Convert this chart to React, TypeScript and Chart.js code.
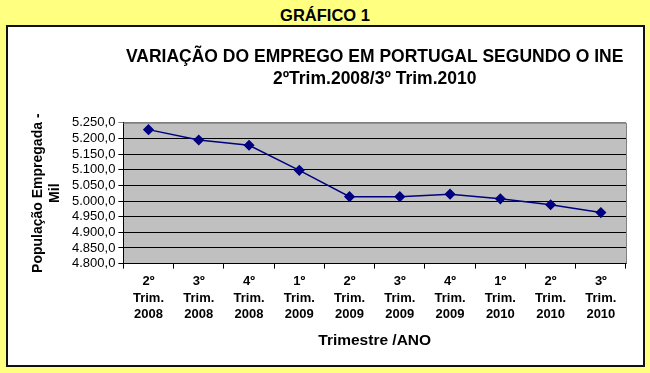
import React, { useEffect, useRef } from "react";
import { Chart, registerables } from "chart.js";

Chart.register(...registerables);

const quarters = ["2º", "3º", "4º", "1º", "2º", "3º", "4º", "1º", "2º", "3º"];
const years = ["2008", "2008", "2008", "2009", "2009", "2009", "2009", "2010", "2010", "2010"];
const employment = [5228, 5195, 5178, 5098, 5014, 5014, 5022, 5007, 4988, 4963];

const chartTitle = ["VARIAÇÃO DO EMPREGO EM PORTUGAL SEGUNDO O INE", "2ºTrim.2008/3º Trim.2010"];
const yTitle = ["População Empregada -", "Mil"];
const xTitle = "Trimestre /ANO";
const header = "GRÁFICO 1";

const FONT = "'Liberation Sans', Arial, sans-serif";

function fmt(v: number): string {
  const th = Math.floor(v / 1000);
  const rest = String(Math.round(v % 1000)).padStart(3, "0");
  return `${th}.${rest},0`;
}

const plotBg = {
  id: "plotBg",
  beforeDraw(chart: any) {
    const { ctx, chartArea } = chart;
    ctx.save();
    ctx.fillStyle = "#C0C0C0";
    ctx.fillRect(chartArea.left, chartArea.top, chartArea.right - chartArea.left, chartArea.bottom - chartArea.top);
    ctx.restore();
  },
  afterDatasetsDraw(chart: any) {
    const { ctx, chartArea } = chart;
    ctx.save();
    ctx.strokeStyle = "#808080";
    ctx.lineWidth = 1;
    ctx.beginPath();
    ctx.moveTo(chartArea.left, chartArea.top + 0.5);
    ctx.lineTo(chartArea.right + 0.5, chartArea.top + 0.5);
    ctx.lineTo(chartArea.right + 0.5, chartArea.bottom);
    ctx.stroke();
    ctx.restore();
  },
};

export default function App() {
  const ref = useRef<HTMLCanvasElement>(null);
  useEffect(() => {
    if (!ref.current) return;
    const labels = quarters.map((q, i) => [q, "Trim.", years[i]]);
    const chart = new Chart(ref.current, {
      type: "line",
      data: {
        labels,
        datasets: [
          {
            data: employment,
            borderColor: "#000080",
            backgroundColor: "#000080",
            borderWidth: 1.5,
            pointStyle: "rectRot",
            pointRadius: 4.5,
            pointBackgroundColor: "#000080",
            pointBorderColor: "#000080",
            tension: 0,
          },
        ],
      },
      options: {
        responsive: false,
        animation: false,
        layout: { padding: { left: 29, right: 24, top: 46, bottom: 23 } },
        plugins: {
          legend: { display: false },
          tooltip: { enabled: false },
          title: {
            display: true,
            text: chartTitle,
            color: "#000",
            font: { family: FONT, size: 17.5, weight: "bold", lineHeight: 1.25 },
            padding: { top: 0, bottom: 33 },
            fullSize: false,
          } as any,
        },
        scales: {
          x: {
            type: "category",
            offset: true,
            grid: {
              display: true,
              offset: true,
              drawOnChartArea: false,
              drawTicks: true,
              tickLength: 5,
              color: "#000",
            },
            border: { display: true, color: "#000" },
            ticks: {
              color: "#000",
              font: { family: FONT, size: 13, weight: "bold", lineHeight: 1.25 },
              maxRotation: 0,
              autoSkip: false,
              padding: 5,
            },
            title: {
              display: true,
              text: xTitle,
              color: "#000",
              font: { family: FONT, size: 15.5, weight: "bold" },
              padding: { top: 4, bottom: 0 },
            },
          },
          y: {
            min: 4800,
            max: 5250,
            ticks: {
              stepSize: 50,
              autoSkip: false,
              color: "#000",
              font: { family: FONT, size: 13 },
              padding: 3,
              callback: (v: any) => fmt(Number(v)),
            },
            grid: {
              color: (c: any) => (c.tick && c.tick.value === 5250 ? "#808080" : "#000"),
              drawTicks: true,
              tickLength: 5,
              lineWidth: 1,
            },
            border: { display: true, color: "#000" },
            title: {
              display: true,
              text: yTitle,
              color: "#000",
              font: { family: FONT, size: 14, weight: "bold", lineHeight: 1.25 },
              padding: { top: 0, bottom: 5 },
            },
          },
        },
      },
      plugins: [plotBg],
    });
    return () => chart.destroy();
  }, []);

  return (
    <div
      style={{
        position: "absolute",
        left: 0,
        top: 0,
        width: 650,
        height: 373,
        background: "#FFFF80",
        overflow: "hidden",
      }}
    >
      <div
        style={{
          position: "absolute",
          left: 0,
          top: 5,
          width: 650,
          textAlign: "center",
          fontFamily: FONT,
          fontWeight: "bold",
          fontSize: 16.5,
          lineHeight: "20px",
          color: "#000",
        }}
      >
        {header}
      </div>
      <div
        style={{
          position: "absolute",
          left: 6,
          top: 25,
          width: 635,
          height: 338,
          background: "#FFFFFF",
          border: "2px solid #111",
        }}
      />
      <canvas
        ref={ref}
        width={650}
        height={373}
        style={{ position: "absolute", left: 0, top: 0, width: 650, height: 373 }}
      />
    </div>
  );
}
